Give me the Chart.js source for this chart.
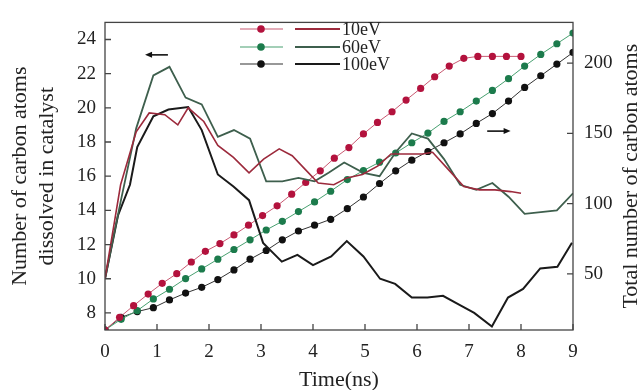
<!DOCTYPE html>
<html>
<head>
<meta charset="utf-8">
<script src="https://cdn.jsdelivr.net/npm/chart.js@4.4.0/dist/chart.umd.min.js"></script>
<style>
  body { margin: 0; background: #fff; }
  canvas { display: block; }
</style>
</head>
<body>
<canvas id="myChart" width="644" height="390"></canvas>
<script>
// Time points of the counted series (ns)
const times10 = [0, 0.28, 0.55, 0.83, 1.10, 1.38, 1.66, 1.93, 2.21, 2.48, 2.76, 3.03, 3.31, 3.59, 3.86, 4.14, 4.41, 4.69, 4.97, 5.24, 5.52, 5.79, 6.07, 6.34, 6.62, 6.90, 7.17, 7.45, 7.72, 8.00];
const times9 = [0, 0.31, 0.62, 0.93, 1.24, 1.55, 1.86, 2.17, 2.48, 2.79, 3.10, 3.41, 3.72, 4.03, 4.34, 4.66, 4.97, 5.28, 5.59, 5.90, 6.21, 6.52, 6.83, 7.14, 7.45, 7.76, 8.07, 8.38, 8.69, 9.00];

// Total number of carbon atoms (right axis)
const total10 = [10, 19.0, 27.3, 35.6, 43.2, 50.1, 58.4, 66.0, 71.5, 77.7, 84.6, 91.5, 98.4, 106.7, 115.0, 123.3, 132.3, 139.9, 149.6, 157.8, 165.4, 173.7, 182.0, 190.3, 197.9, 203.4, 204.8, 204.8, 204.8, 204.8];
const total60 = [10, 17.6, 23.8, 32.1, 39.0, 46.6, 53.5, 60.4, 67.3, 74.2, 81.2, 87.4, 94.3, 101.2, 108.8, 117.1, 123.5, 129.5, 136.0, 143.3, 150.2, 158.5, 165.4, 173.0, 180.6, 188.9, 197.9, 206.2, 213.8, 221.4];
const total100 = [10, 19.0, 23.1, 25.9, 31.4, 36.3, 40.4, 45.9, 52.8, 60.4, 66.6, 74.2, 80.5, 84.6, 88.8, 96.4, 104.7, 114.3, 123.3, 130.9, 137.1, 143.3, 149.6, 157.1, 164.1, 173.0, 182.7, 191.0, 199.3, 207.6];

// Number of carbon atoms dissolved in catalyst (left axis)
const dissT10 = [0, 0.3, 0.6, 0.85, 1.15, 1.4, 1.6, 1.9, 2.17, 2.47, 2.77, 3.05, 3.35, 3.6, 3.85, 4.1, 4.4, 4.65, 4.95, 5.25, 5.5, 5.8, 6.1, 6.3, 6.6, 6.9, 7.2, 7.5, 7.8, 8.0];
const diss10 = [10, 15.5, 18.6, 19.7, 19.6, 19.0, 20.0, 19.2, 17.8, 17.1, 16.2, 17.0, 17.6, 17.2, 16.4, 15.6, 15.5, 15.9, 16.1, 16.6, 17.3, 17.3, 17.3, 17.4, 16.4, 15.4, 15.2, 15.2, 15.1, 15.0];
const dissT60 = [0, 0.3, 0.6, 0.93, 1.24, 1.55, 1.86, 2.17, 2.48, 2.79, 3.1, 3.41, 3.72, 4.03, 4.3, 4.6, 4.97, 5.28, 5.59, 5.9, 6.21, 6.52, 6.83, 7.14, 7.45, 7.76, 8.07, 8.38, 8.69, 9.0];
const diss60 = [10, 14.5, 18.8, 21.9, 22.4, 20.6, 20.2, 18.3, 18.7, 18.2, 15.7, 15.7, 15.9, 15.7, 16.2, 16.8, 16.2, 16.0, 17.4, 18.5, 18.2, 17.0, 15.5, 15.2, 15.6, 14.8, 13.8, 13.9, 14.0, 15.0];
const dissT100 = [0, 0.25, 0.48, 0.62, 0.93, 1.22, 1.6, 1.86, 2.17, 2.47, 2.77, 3.04, 3.4, 3.7, 4.0, 4.35, 4.65, 4.97, 5.29, 5.58, 5.9, 6.2, 6.5, 6.8, 7.1, 7.44, 7.75, 8.04, 8.37, 8.7, 8.98];
const diss100 = [10, 13.7, 15.5, 17.7, 19.5, 19.9, 20.05, 18.7, 16.1, 15.4, 14.6, 12.1, 11.0, 11.4, 10.8, 11.3, 12.2, 11.3, 10.0, 9.7, 8.9, 8.9, 9.0, 8.5, 8.0, 7.2, 8.9, 9.4, 10.6, 10.7, 12.1];

// Tick labels
const xTicks = [0, 1, 2, 3, 4, 5, 6, 7, 8, 9];
const leftTicks = [8, 10, 12, 14, 16, 18, 20, 22, 24];
const rightTicks = [50, 100, 150, 200];
const labels = ['10eV', '60eV', '100eV'];

const serif = "'Liberation Serif', 'Times New Roman', serif";
const dotColors = ['#b3123d', '#1c7b4c', '#111111'];
const dotLines = ['#c85a72', '#48a070', '#333333'];
const solidColors = ['#9c2a3c', '#3e5f4d', '#1a1a1a'];

function pts(t, v) {
    return t.map((x, i) => ({ x: x, y: v[i] }));
}

// Рамка, засечки внутрь, легенда, стрелки и правый заголовок
const decor = {
    id: 'decor',
    afterDraw(chart) {
        const ctx = chart.ctx;
        const a = chart.chartArea;
        const sx = chart.scales.x, sy = chart.scales.y, sy1 = chart.scales.y1;
        ctx.save();
        ctx.strokeStyle = '#444';
        ctx.lineWidth = 1.3;
        ctx.strokeRect(a.left, a.top, a.right - a.left, a.bottom - a.top);
        ctx.beginPath();
        xTicks.forEach(v => {
            const p = sx.getPixelForValue(v);
            ctx.moveTo(p, a.bottom); ctx.lineTo(p, a.bottom - 6);
        });
        leftTicks.forEach(v => {
            const p = sy.getPixelForValue(v);
            ctx.moveTo(a.left, p); ctx.lineTo(a.left + 6, p);
        });
        rightTicks.forEach(v => {
            const p = sy1.getPixelForValue(v);
            ctx.moveTo(a.right, p); ctx.lineTo(a.right - 6, p);
        });
        ctx.stroke();

        // legend
        const rows = [29, 47, 64];
        ctx.font = '18px ' + serif;
        ctx.textBaseline = 'middle';
        ctx.textAlign = 'left';
        rows.forEach((y, i) => {
            ctx.strokeStyle = dotLines[i];
            ctx.lineWidth = 1.2;
            ctx.beginPath(); ctx.moveTo(240, y); ctx.lineTo(283, y); ctx.stroke();
            ctx.fillStyle = dotColors[i];
            ctx.beginPath(); ctx.arc(261, y, 3.8, 0, Math.PI * 2); ctx.fill();
            ctx.strokeStyle = solidColors[i];
            ctx.lineWidth = 2;
            ctx.beginPath(); ctx.moveTo(295, y); ctx.lineTo(340, y); ctx.stroke();
            ctx.fillStyle = '#222';
            ctx.fillText(labels[i], 342, y + 1);
        });

        // arrows
        ctx.strokeStyle = '#111';
        ctx.fillStyle = '#111';
        ctx.lineWidth = 1.6;
        const arrow = (x1, x2, y) => {
            const d = x2 > x1 ? 1 : -1;
            ctx.beginPath(); ctx.moveTo(x1, y); ctx.lineTo(x2 - d * 4, y); ctx.stroke();
            ctx.beginPath(); ctx.moveTo(x2, y); ctx.lineTo(x2 - d * 7, y - 3); ctx.lineTo(x2 - d * 7, y + 3); ctx.closePath(); ctx.fill();
        };
        arrow(sx.getPixelForValue(1.21), sx.getPixelForValue(0.77), sy.getPixelForValue(23.1));
        arrow(sx.getPixelForValue(7.35), sx.getPixelForValue(7.8), sy1.getPixelForValue(151.6));

        // right title
        ctx.save();
        ctx.translate(631, (a.top + a.bottom) / 2);
        ctx.rotate(-Math.PI / 2);
        ctx.font = '22px ' + serif;
        ctx.fillStyle = '#222';
        ctx.textAlign = 'center';
        ctx.textBaseline = 'middle';
        ctx.fillText('Total number of carbon atoms', 0, 0);
        ctx.restore();
        ctx.restore();
    }
};

const ctx = document.getElementById('myChart').getContext('2d');
const chart = new Chart(ctx, {
    type: 'line',
    data: {
        datasets: [
            { data: pts(dissT10, diss10), yAxisID: 'y', borderColor: solidColors[0], borderWidth: 1.6, pointRadius: 0 },
            { data: pts(dissT60, diss60), yAxisID: 'y', borderColor: solidColors[1], borderWidth: 1.8, pointRadius: 0 },
            { data: pts(dissT100, diss100), yAxisID: 'y', borderColor: solidColors[2], borderWidth: 2, pointRadius: 0 },
            { data: pts(times10, total10), yAxisID: 'y1', borderColor: dotLines[0], borderWidth: 1, pointRadius: 3.6, pointBackgroundColor: dotColors[0], pointBorderWidth: 0 },
            { data: pts(times9, total60), yAxisID: 'y1', borderColor: dotLines[1], borderWidth: 1, pointRadius: 3.6, pointBackgroundColor: dotColors[1], pointBorderWidth: 0 },
            { data: pts(times9, total100), yAxisID: 'y1', borderColor: dotLines[2], borderWidth: 1, pointRadius: 3.6, pointBackgroundColor: dotColors[2], pointBorderWidth: 0 }
        ]
    },
    options: {
        responsive: false,
        animation: false,
        layout: { padding: { top: 13, left: 0, right: 0, bottom: 0 } },
        plugins: { legend: { display: false }, tooltip: { enabled: false } },
        scales: {
            x: {
                type: 'linear', min: 0, max: 9,
                afterBuildTicks: s => { s.ticks = xTicks.map(v => ({ value: v })); },
                afterFit: s => { s.height = 60; },
                grid: { display: false, drawTicks: false },
                border: { display: false },
                ticks: { padding: 11, color: '#222', font: { family: serif, size: 19 } },
                title: { display: true, text: 'Time(ns)', color: '#222', padding: 0, font: { family: serif, size: 22, lineHeight: 0.9 } }
            },
            y: {
                position: 'left', min: 7, max: 25,
                afterBuildTicks: s => { s.ticks = leftTicks.map(v => ({ value: v })); },
                afterFit: s => { s.width = 105; },
                grid: { display: false, drawTicks: false },
                border: { display: false },
                ticks: { padding: 9, color: '#222', font: { family: serif, size: 19 } },
                title: { display: true, text: ['Number of carbon atoms', 'dissolved in catalyst'], color: '#222', padding: { top: 6, bottom: 0 }, font: { family: serif, size: 22, lineHeight: 1.25 } }
            },
            y1: {
                position: 'right', min: 10, max: 229,
                afterBuildTicks: s => { s.ticks = rightTicks.map(v => ({ value: v })); },
                afterFit: s => { s.width = 71; },
                grid: { display: false, drawTicks: false },
                border: { display: false },
                ticks: { padding: 11, color: '#222', font: { family: serif, size: 19 } }
            }
        }
    },
    plugins: [decor]
});
</script>
</body>
</html>
